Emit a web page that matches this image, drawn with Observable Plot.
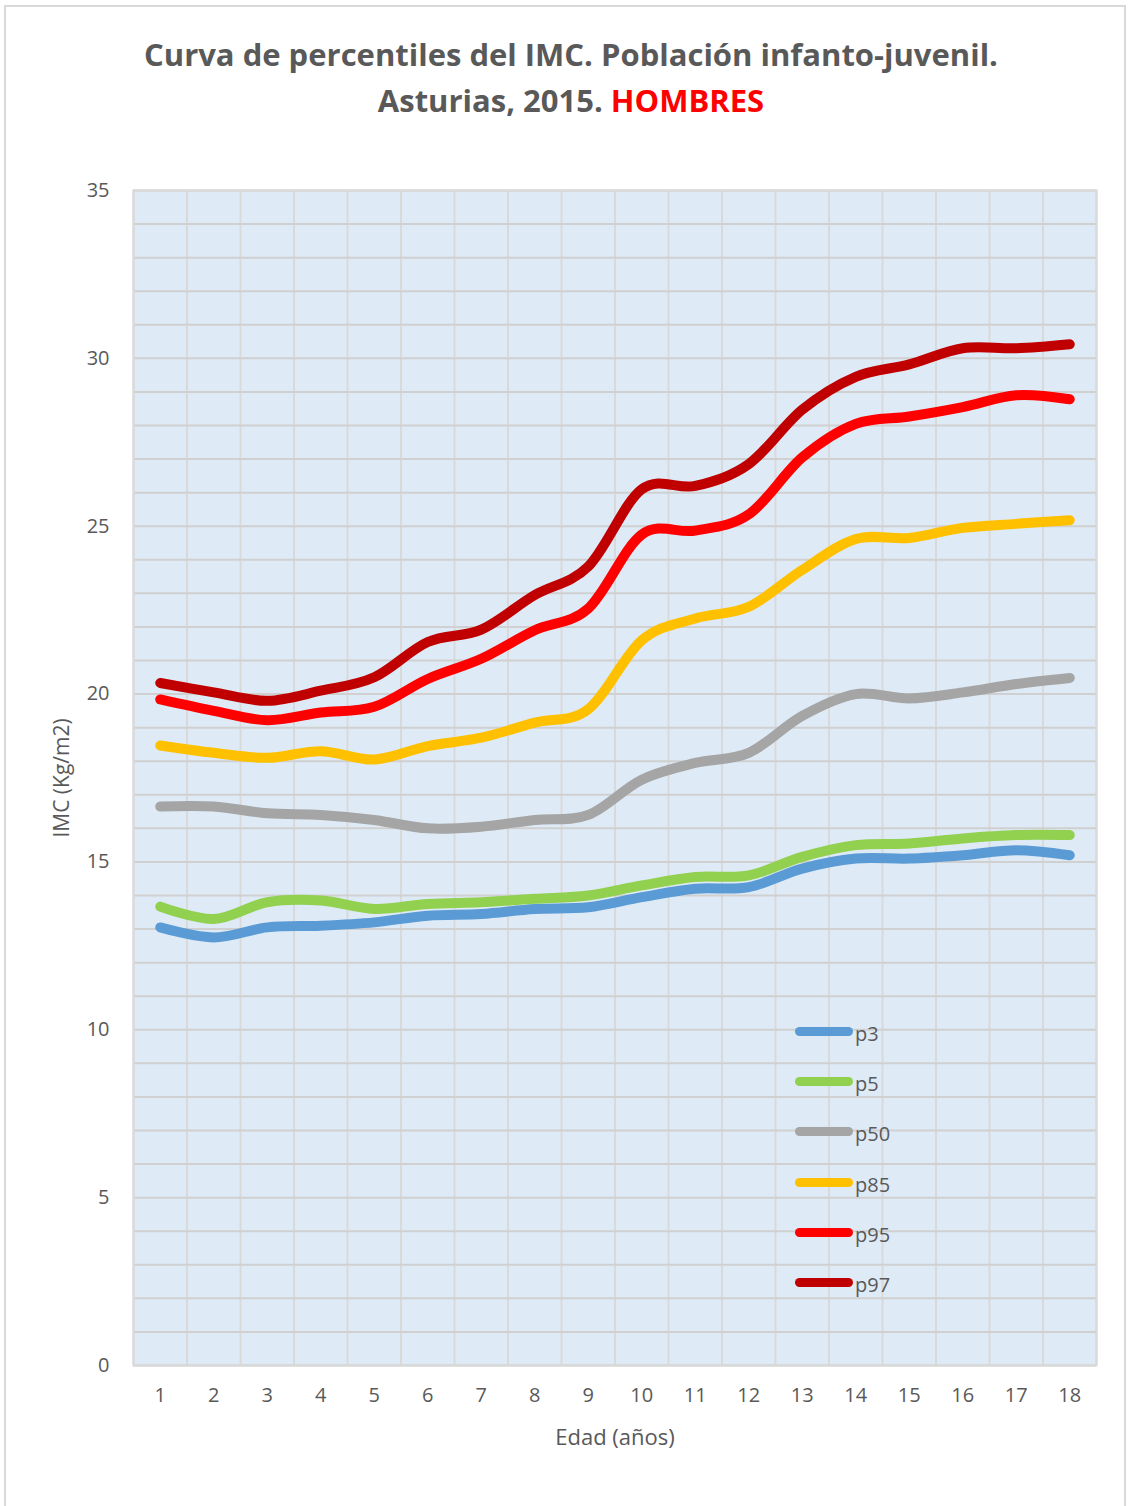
<!DOCTYPE html>
<html>
<head>
<meta charset="utf-8">
<script src="https://cdn.jsdelivr.net/npm/d3@7"></script>
<script src="https://cdn.jsdelivr.net/npm/@observablehq/plot@0.6"></script>
<style>
  html, body { margin: 0; padding: 0; background: #fff; }
  #wrap { position: relative; width: 1131px; height: 1506px; overflow: hidden; font-family: "Open Sans", sans-serif; }
  #border { position: absolute; left: 4px; top: 5px; width: 1122px; height: 1510px; border: 2px solid #d9d9d9; box-sizing: border-box; }
  #title { position: absolute; left: 0; top: 31px; width: 1142px; text-align: center; color: #595959; font-weight: bold; font-size: 31px; line-height: 46px; letter-spacing: 0px; }
  #title .red { color: #ff0000; }
  #chart { position: absolute; left: 0; top: 160px; }
  #legend { position: absolute; left: 795px; top: 1006px; }
  .item { height: 50.3px; display: flex; align-items: center; }
  .swatch { width: 58px; height: 9px; border-radius: 5px; }
  .lbl { color: #595959; font-size: 20px; margin-left: 2px; margin-top: 4px; }
</style>
</head>
<body>
<div id="wrap">
  <div id="border"></div>
  <div id="title">Curva de percentiles del IMC. Población infanto-juvenil.<br>Asturias, 2015. <span class="red">HOMBRES</span></div>
  <div id="chart"></div>
  <div id="legend"></div>
</div>
<script>
const ages = [1, 2, 3, 4, 5, 6, 7, 8, 9, 10, 11, 12, 13, 14, 15, 16, 17, 18];
const p3  = [13.05, 12.75, 13.05, 13.1, 13.2, 13.4, 13.45, 13.6, 13.65, 13.95, 14.2, 14.25, 14.8, 15.1, 15.1, 15.2, 15.35, 15.2];
const p5  = [13.67, 13.3, 13.8, 13.85, 13.6, 13.75, 13.8, 13.9, 14.0, 14.3, 14.55, 14.6, 15.15, 15.5, 15.55, 15.7, 15.8, 15.8];
const p50 = [16.65, 16.65, 16.45, 16.4, 16.25, 16.0, 16.05, 16.25, 16.4, 17.45, 17.95, 18.25, 19.35, 20.0, 19.87, 20.05, 20.3, 20.48];
const p85 = [18.47, 18.25, 18.1, 18.3, 18.05, 18.45, 18.7, 19.15, 19.55, 21.6, 22.25, 22.6, 23.7, 24.62, 24.65, 24.95, 25.07, 25.18];
const p95 = [19.84, 19.5, 19.22, 19.45, 19.62, 20.45, 21.05, 21.9, 22.55, 24.75, 24.87, 25.35, 27.05, 28.05, 28.27, 28.55, 28.9, 28.78];
const p97 = [20.33, 20.05, 19.8, 20.1, 20.5, 21.55, 21.92, 22.95, 23.8, 26.1, 26.2, 26.85, 28.47, 29.45, 29.82, 30.3, 30.3, 30.42];
const seriesNames = ["p3", "p5", "p50", "p85", "p95", "p97"];
const seriesValues = [p3, p5, p50, p85, p95, p97];
const seriesColors = ["#5b9bd5", "#92d050", "#a5a5a5", "#ffc000", "#ff0000", "#c00000"];
const yTicks = [0, 5, 10, 15, 20, 25, 30, 35];
const yGrid = d3.range(0, 36, 1);

const data = [];
seriesNames.forEach((s, i) => ages.forEach((a, j) => data.push({serie: s, edad: a, imc: seriesValues[i][j]})));
const xBounds = ages.map(a => a - 0.5).concat([ages[ages.length - 1] + 0.5]);

const chart = Plot.plot({
  width: 1131,
  height: 1346,
  marginTop: 30,
  marginBottom: 141,
  marginLeft: 133,
  marginRight: 35,
  style: {fontFamily: "Open Sans, sans-serif", background: "transparent", overflow: "visible"},
  x: {type: "linear", domain: [0.5, 18.5], ticks: ages, tickFormat: d => String(d), tickSize: 0, tickPadding: 22, label: null},
  y: {domain: [0, 35], ticks: yTicks, tickSize: 0, tickPadding: 24, label: null},
  color: {domain: seriesNames, range: seriesColors},
  marks: [
    Plot.frame({fill: "#deebf7", stroke: "none"}),
    Plot.ruleX(xBounds, {stroke: "#d9d9d9", strokeWidth: 2, strokeOpacity: 1}),
    Plot.ruleY(yGrid, {stroke: "#d0d0d0", strokeWidth: 2, strokeOpacity: 1}),
    Plot.frame({stroke: "#d9d9d9", strokeWidth: 2}),
    Plot.axisX({ticks: ages, tickSize: 0, tickPadding: 22, fontSize: 20, fill: "#595959", label: null}),
    Plot.axisY({ticks: yTicks, tickSize: 0, tickPadding: 24, fontSize: 20, fill: "#595959", label: null}),
    Plot.line(data, {x: "edad", y: "imc", z: "serie", stroke: "serie", strokeWidth: 10, curve: "cardinal", strokeLinecap: "round", strokeLinejoin: "round"}),
    Plot.text(["Edad (años)"], {frameAnchor: "bottom", dy: 79, fontSize: 22, fill: "#595959", text: d => d}),
    Plot.text(["IMC (Kg/m2)"], {frameAnchor: "left", dx: -71, rotate: -90, textAnchor: "middle", fontSize: 21, fill: "#595959", text: d => d})
  ]
});
document.getElementById("chart").appendChild(chart);

const leg = document.getElementById("legend");
seriesNames.forEach((s, i) => {
  const it = document.createElement("div");
  it.className = "item";
  it.innerHTML = `<div class="swatch" style="background:${seriesColors[i]}"></div><span class="lbl">${s}</span>`;
  leg.appendChild(it);
});
</script>
</body>
</html>
